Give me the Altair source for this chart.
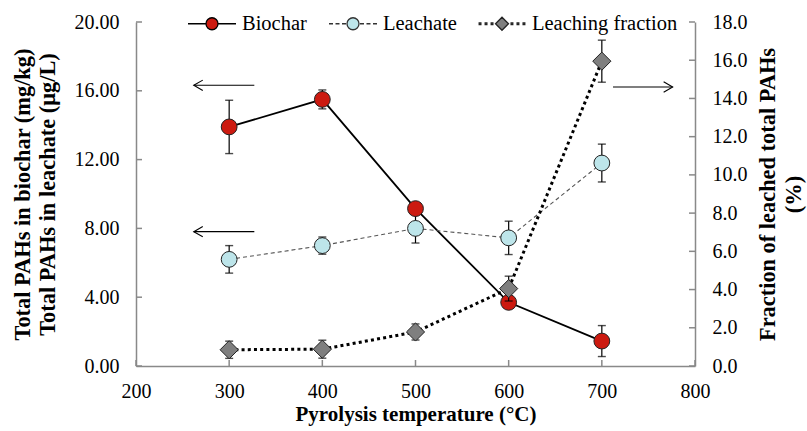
import altair as alt
import pandas as pd

# ---- data ----
temps = [300, 400, 500, 600, 700]
biochar = [13.9, 15.5, 9.15, 3.7, 1.45]
biochar_err = [1.55, 0.55, 0.25, 0.3, 0.9]
leachate = [6.2, 7.0, 8.0, 7.45, 11.8]
leachate_err = [0.8, 0.5, 0.85, 0.97, 1.1]
fraction = [0.85, 0.88, 1.78, 4.05, 15.95]
fraction_err = [0.45, 0.47, 0.42, 0.65, 1.1]

series_names = ["Biochar", "Leachate", "Leaching fraction"]
series_fill = ["#CC1A10", "#BDE5EA", "#7F7F7F"]
series_stroke = ["#000000", "#333333", "#222222"]

x_ticks = [200, 300, 400, 500, 600, 700, 800]
left_ticks = [0, 4, 8, 12, 16, 20]
right_ticks = [0, 2, 4, 6, 8, 10, 12, 14, 16, 18]

# annotation arrows (in x units and left-axis units)
arrow_x0 = [262, 262, 712]
arrow_x1 = [327, 327, 776]
arrow_y = [16.32, 7.81, 16.22]
arrow_dir = ["left", "left", "right"]

FONT = "Liberation Serif"
AX = "#898989"
W, H = 559, 344

def frame(vals, errs):
    return pd.DataFrame({
        "T": temps,
        "v": vals,
        "lo": [v - e for v, e in zip(vals, errs)],
        "hi": [v + e for v, e in zip(vals, errs)],
    })

df_b = frame(biochar, biochar_err)
df_l = frame(leachate, leachate_err)
df_f = frame(fraction, fraction_err)

x_scale = alt.Scale(domain=[200, 800], nice=False, zero=False)
yl_scale = alt.Scale(domain=[0, 20], nice=False, zero=False)
yr_scale = alt.Scale(domain=[0, 18], nice=False, zero=False)

x_axis = alt.Axis(values=x_ticks, format="d", title="Pyrolysis temperature (°C)",
                  ticks=False, labelPadding=15, labelFlush=False, labelOverlap=False,
                  domainColor=AX, domainWidth=1.5, grid=False, titleFontSize=21,
                  titleX=W / 2, titleY=54, titleBaseline="alphabetic", titleAlign="center")

yl_axis = alt.Axis(values=left_ticks, format=".2f", orient="left",
                   title=["Total PAHs in biochar (mg/kg)", "Total PAHs in leachate (μg/L)"],
                   ticks=False, labelPadding=17, labelFlush=False, labelOverlap=False,
                   domainColor=AX, domainWidth=1.5, grid=False, titleFontSize=22.4,
                   titleAngle=270, titleX=-107, titleY=H / 2, titleAlign="center",
                   titleBaseline="alphabetic", titleLineHeight=25)

yr_axis = alt.Axis(values=right_ticks, format=".1f", orient="right",
                   title=["Fraction of leached total PAHs", "(%)"],
                   ticks=False, labelPadding=17, labelFlush=False, labelOverlap=False,
                   domainColor=AX, domainWidth=1.5, grid=False, titleFontSize=22.4,
                   titleAngle=270, titleX=79, titleY=H / 2, titleAlign="center",
                   titleBaseline="alphabetic", titleLineHeight=26)

Xn = lambda f="T": alt.X(f"{f}:Q", scale=x_scale, axis=x_axis)
YL = lambda f: alt.Y(f"{f}:Q", scale=yl_scale, axis=None)
YR = lambda f: alt.Y(f"{f}:Q", scale=yr_scale, axis=None)

base_b = alt.Chart(df_b)
base_l = alt.Chart(df_l)
base_f = alt.Chart(df_f)

# ticks drawn inward (tick layers carry the y axes)
tick_l = alt.Chart(pd.DataFrame({"t": left_ticks})).mark_rule(color=AX, strokeWidth=1.5).encode(
    y=alt.Y("t:Q", scale=yl_scale, axis=yl_axis), x=alt.value(0), x2=alt.value(6))
tick_x = alt.Chart(pd.DataFrame({"t": x_ticks})).mark_rule(color=AX, strokeWidth=1.5).encode(
    x=Xn("t"), y=alt.value(H - 6), y2=alt.value(H))
tick_r = alt.Chart(pd.DataFrame({"t": right_ticks})).mark_rule(color=AX, strokeWidth=1.5).encode(
    y=alt.Y("t:Q", scale=yr_scale, axis=yr_axis), x=alt.value(W - 6), x2=alt.value(W))

bio_line = base_b.mark_line(color="black", strokeWidth=1.8).encode(x=Xn(), y=YL("v"))
leach_line = base_l.mark_line(color="#555555", strokeWidth=1.1, strokeDash=[4, 3]).encode(
    x=Xn(), y=YL("v"))
fra_line = base_f.mark_line(color="black", strokeWidth=3, strokeDash=[3, 3.2]).encode(
    x=Xn(), y=YR("v"))

def errs(base, Y):
    r = base.mark_rule(color="black", strokeWidth=1.2).encode(x=Xn(), y=Y("lo"), y2="hi")
    t1 = base.mark_tick(orient="horizontal", size=8, thickness=1.4, color="black").encode(x=Xn(), y=Y("lo"))
    t2 = base.mark_tick(orient="horizontal", size=8, thickness=1.4, color="black").encode(x=Xn(), y=Y("hi"))
    return [r, t1, t2]

leach_pts = base_l.mark_point(shape="circle", filled=True, size=250, fill=series_fill[1],
                              stroke="#222222", strokeWidth=1, opacity=1).encode(x=Xn(), y=YL("v"))
bio_pts = base_b.mark_point(shape="circle", filled=True, size=250, fill=series_fill[0],
                            stroke="#222222", strokeWidth=1, opacity=1).encode(x=Xn(), y=YL("v"))
fra_pts = base_f.mark_point(shape="diamond", filled=True, size=330, fill=series_fill[2],
                            stroke="#222222", strokeWidth=1, opacity=1).encode(x=Xn(), y=YR("v"))

df_arr = pd.DataFrame({"x0": arrow_x0, "x1": arrow_x1, "y": arrow_y, "dir": arrow_dir})
arr_base = alt.Chart(df_arr)
arr_lines = arr_base.mark_rule(color="black", strokeWidth=1.1).encode(
    x=Xn("x0"), x2="x1", y=YL("y"))
arr_left = arr_base.transform_filter(alt.datum.dir == "left").mark_point(
    shape="M2,-1.15L0,0L2,1.15", size=81, filled=False, stroke="black", strokeWidth=1.1, opacity=1
).encode(x=Xn("x0"), y=YL("y"))
arr_right = arr_base.transform_filter(alt.datum.dir == "right").mark_point(
    shape="M-2,-1.15L0,0L-2,1.15", size=81, filled=False, stroke="black", strokeWidth=1.1, opacity=1
).encode(x=Xn("x1"), y=YL("y"))

# legend (custom glyphs: line + marker)
p_bio = ("M-1,0H-0.25M0.25,0H1"
         "M0.25,0A0.25,0.25,0,1,1,-0.25,0A0.25,0.25,0,1,1,0.25,0Z")
p_lea = ("M-1,0H-0.833M-0.729,0H-0.562M-0.458,0H-0.29"
         "M0.29,0H0.458M0.562,0H0.729M0.833,0H1"
         "M0.25,0A0.25,0.25,0,1,1,-0.25,0A0.25,0.25,0,1,1,0.25,0Z")
p_fra = ("M-0.95,-0.035h0.07v0.07h-0.07Z M-0.7,-0.035h0.07v0.07h-0.07Z M-0.45,-0.035h0.07v0.07h-0.07Z"
         "M0.38,-0.035h0.07v0.07h-0.07Z M0.63,-0.035h0.07v0.07h-0.07Z M0.88,-0.035h0.07v0.07h-0.07Z"
         "M0.27,0L0,-0.27L-0.27,0L0,0.27Z")
leg = alt.Legend(orient="none", legendX=51, legendY=-23.5, direction="horizontal", title=None,
                 symbolSize=2304, symbolStrokeWidth=1.3, symbolOpacity=1, labelFont=FONT,
                 labelFontSize=20.5, labelColor="black", labelOffset=5, columnPadding=19, padding=0)
df_leg = pd.DataFrame({"series": series_names, "T": [300, 400, 500], "v": [1, 1, 1]})
legend_layer = alt.Chart(df_leg).mark_point(filled=True, opacity=0).encode(
    x=Xn(), y=YL("v"),
    shape=alt.Shape("series:N", scale=alt.Scale(domain=series_names, range=[p_bio, p_lea, p_fra]), legend=leg),
    fill=alt.Fill("series:N", scale=alt.Scale(domain=series_names, range=series_fill), legend=leg),
    stroke=alt.Stroke("series:N", scale=alt.Scale(domain=series_names, range=series_stroke), legend=leg),
)

layers = [tick_l, tick_x, tick_r, bio_line, leach_line, fra_line,
          *errs(base_l, YL), *errs(base_b, YL),
          leach_pts, bio_pts, *errs(base_f, YR), fra_pts,
          arr_lines, arr_left, arr_right, legend_layer]

chart = alt.layer(*layers).resolve_scale(y="independent").properties(
    width=W, height=H,
    autosize=alt.AutoSizeParams(type="none"),
    padding={"left": 136, "top": 22, "right": 807 - 136 - W, "bottom": 431 - 22 - H},
    background="white",
).configure_view(stroke=None).configure_axis(
    labelFont=FONT, labelFontSize=20, labelColor="black",
    titleFont=FONT, titleFontSize=20, titleFontWeight="bold", titleColor="black",
)

chart.save("out.html", embed_options={"renderer": "svg", "actions": False})
